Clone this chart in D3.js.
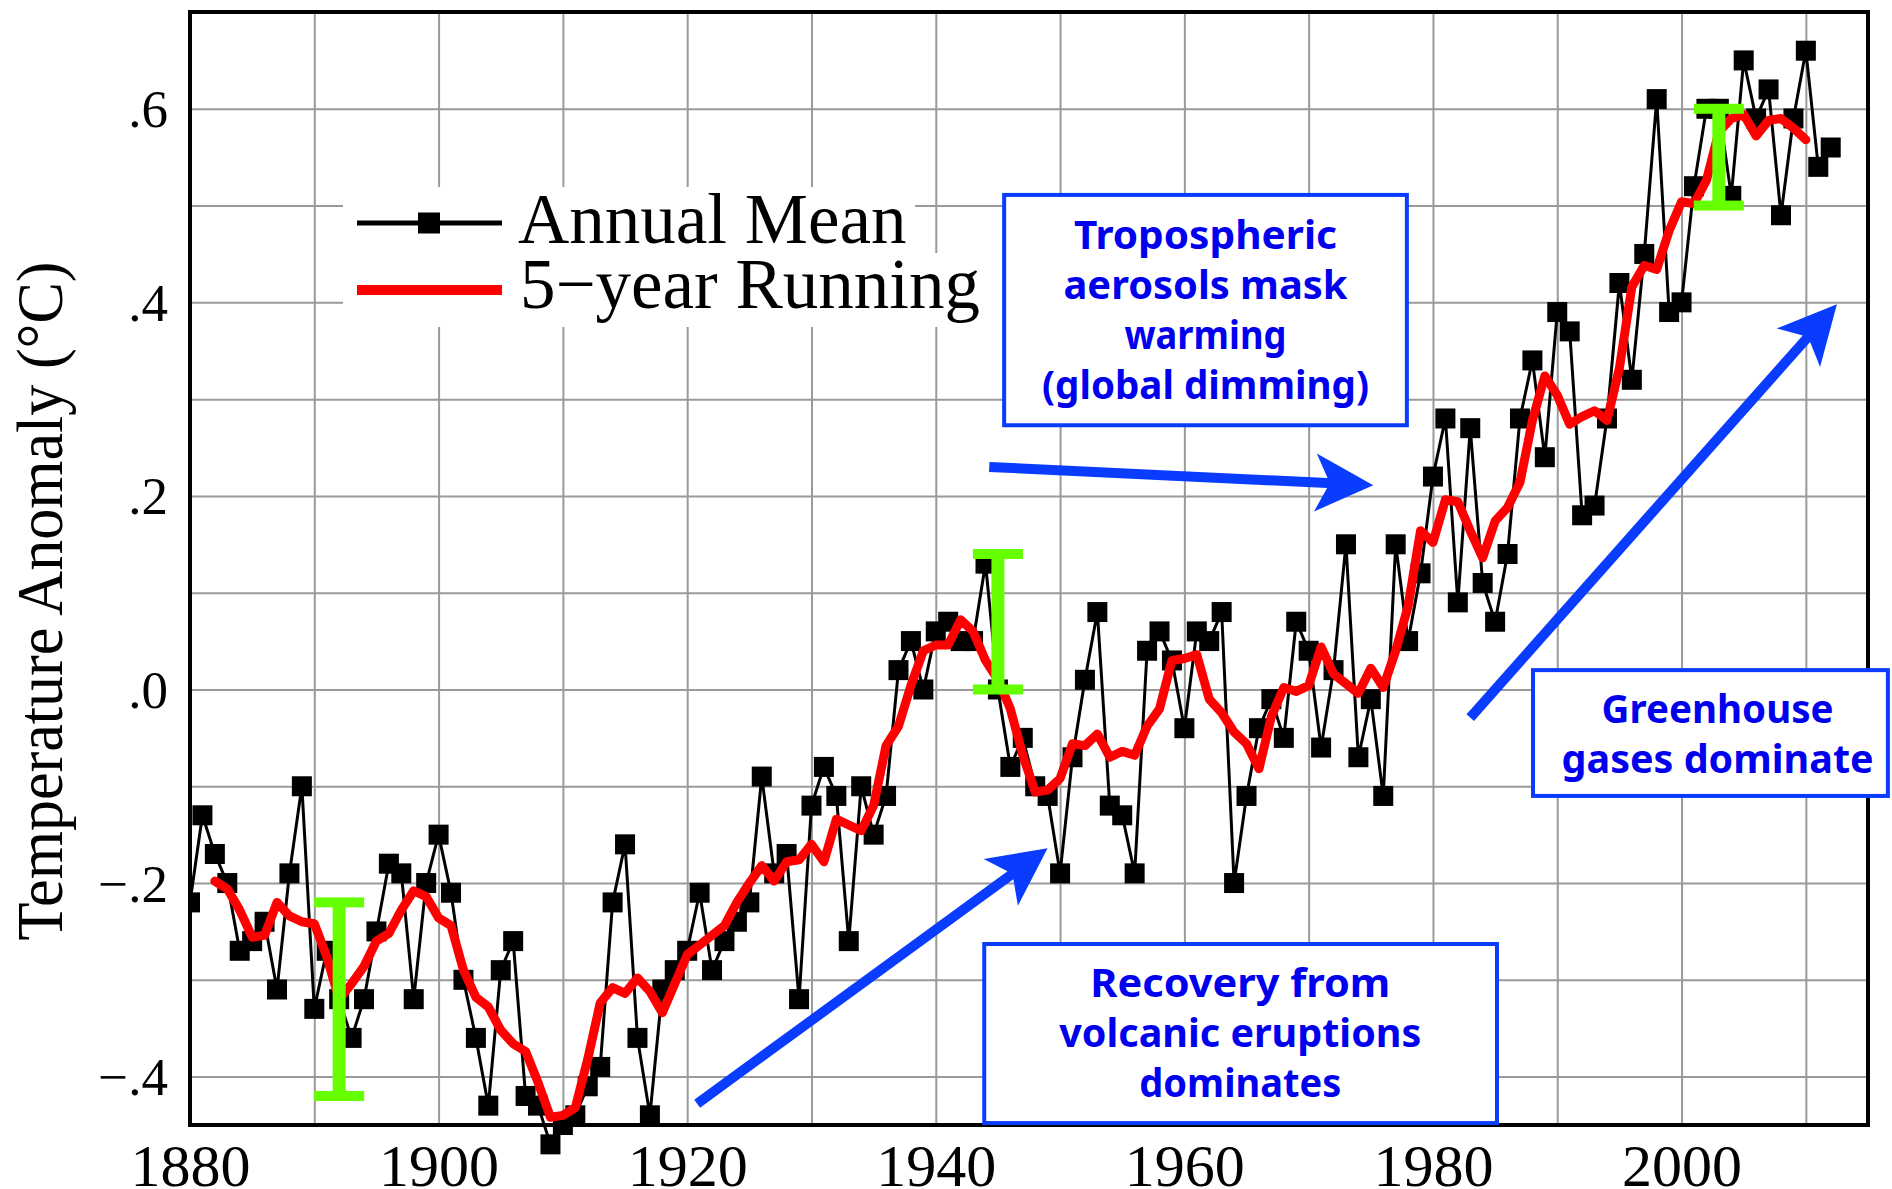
<!DOCTYPE html>
<html>
<head>
<meta charset="utf-8">
<script src="https://cdn.jsdelivr.net/npm/d3@7"></script>
<style>
  html, body { margin: 0; padding: 0; background: #fff; }
  svg { display: block; }
</style>
</head>
<body>
<svg id="chart" width="1892" height="1189"></svg>
<script>
// Global surface temperature anomaly (°C), annual means from 1880 onward
const startYear = 1880;
const annualMean = [
  -0.22, -0.13, -0.17, -0.20, -0.27, -0.26, -0.24, -0.31, -0.19, -0.10,
  -0.33, -0.27, -0.32, -0.36, -0.32, -0.25, -0.18, -0.19, -0.32, -0.20,
  -0.15, -0.21, -0.30, -0.36, -0.43, -0.29, -0.26, -0.42, -0.43, -0.47,
  -0.45, -0.44, -0.41, -0.39, -0.22, -0.16, -0.36, -0.44, -0.31, -0.29,
  -0.27, -0.21, -0.29, -0.26, -0.24, -0.22, -0.09, -0.19, -0.17, -0.32,
  -0.12, -0.08, -0.11, -0.26, -0.10, -0.15, -0.11,  0.02,  0.05,  0.00,
   0.06,  0.07,  0.05,  0.05,  0.13,  0.00, -0.08, -0.05, -0.10, -0.11,
  -0.19, -0.07,  0.01,  0.08, -0.12, -0.13, -0.19,  0.04,  0.06,  0.03,
  -0.04,  0.06,  0.05,  0.08, -0.20, -0.11, -0.04, -0.01, -0.05,  0.07,
   0.04, -0.06,  0.02,  0.15, -0.07, -0.01, -0.11,  0.15,  0.05,  0.12,
   0.22,  0.28,  0.09,  0.27,  0.11,  0.07,  0.14,  0.28,  0.34,  0.24,
   0.39,  0.37,  0.18,  0.19,  0.28,  0.42,  0.32,  0.45,  0.61,  0.39,
   0.40,  0.52,  0.60,  0.60,  0.51,  0.65,  0.59,  0.62,  0.49,  0.59,
   0.66,  0.54,  0.56
];

// 5-year running mean, centred, 1882-2010
const runStartYear = 1882;
const runningMean = [
  -0.198, -0.206, -0.228, -0.256, -0.254, -0.220, -0.234, -0.240, -0.242, -0.276,
  -0.320, -0.304, -0.286, -0.260, -0.252, -0.228, -0.208, -0.214, -0.236, -0.244,
  -0.290, -0.318, -0.328, -0.352, -0.366, -0.374, -0.406, -0.442, -0.440, -0.432,
  -0.382, -0.324, -0.308, -0.314, -0.298, -0.312, -0.334, -0.304, -0.274, -0.264,
  -0.254, -0.244, -0.220, -0.200, -0.182, -0.198, -0.178, -0.176, -0.160, -0.178,
  -0.134, -0.140, -0.146, -0.120, -0.058, -0.038,  0.004,  0.040,  0.046,  0.046,
   0.072,  0.060,  0.030,  0.010, -0.020, -0.068, -0.106, -0.104, -0.092, -0.056,
  -0.058, -0.046, -0.070, -0.064, -0.068, -0.038, -0.020,  0.030,  0.032,  0.036,
  -0.010, -0.024, -0.044, -0.056, -0.082, -0.028,  0.002, -0.002,  0.004,  0.044,
   0.016,  0.006, -0.004,  0.022,  0.002,  0.040,  0.086,  0.164,  0.152,  0.196,
   0.194,  0.164,  0.136,  0.174,  0.188,  0.214,  0.278,  0.324,  0.304,  0.274,
   0.282,  0.288,  0.278,  0.332,  0.416,  0.438,  0.434,  0.474,  0.504,  0.502,
   0.526,  0.576,  0.590,  0.594,  0.572,  0.588,  0.590,  0.580,  0.568
];

// Uncertainty bars (year, low, high)
const barYears = [1892, 1945, 2003];
const barLows  = [-0.42, 0.00, 0.50];
const barHighs = [-0.22, 0.14, 0.60];

// Axis ticks and labels
const xTickValues = [1880, 1900, 1920, 1940, 1960, 1980, 2000];
const xTickLabels = ["1880", "1900", "1920", "1940", "1960", "1980", "2000"];
const yTickValues = [-0.4, -0.2, 0.0, 0.2, 0.4, 0.6];
const yTickLabels = ["\u2212.4", "\u2212.2", ".0", ".2", ".4", ".6"];
const yTitle = "Temperature Anomaly (\u00B0C)";
const legendLabels = ["Annual Mean", "5\u2212year Running"];

// Annotation text
const noteLines = [
  ["Tropospheric", "aerosols mask", "warming", "(global dimming)"],
  ["Greenhouse", "gases dominate"],
  ["Recovery from", "volcanic eruptions", "dominates"]
];

// ---------------------------------------------------------------
const W = 1892, H = 1189;
const plot = { left: 190, right: 1868, top: 12, bottom: 1125 };

const svg = d3.select("#chart");
svg.append("rect").attr("width", W).attr("height", H).attr("fill", "#fff");

const x = d3.scaleLinear().domain([1880, 2015]).range([plot.left, plot.right]);
const y = d3.scaleLinear().domain([-0.45, 0.70]).range([plot.bottom, plot.top]);

const annual = annualMean.map((v, i) => ({ year: startYear + i, value: v }));
const running = runningMean.map((v, i) => ({ year: runStartYear + i, value: v }));

const serif = "'Liberation Serif', 'Times New Roman', Times, serif";
const noteFont = "'Comic Sans MS', 'Noto Sans', 'Open Sans', sans-serif";
const gridColor = "#9a9a9a";
const blue = "#0a3cff";
const noteBlue = "#0000ee";

// ---- grid ----
svg.append("g")
  .attr("transform", `translate(0,${plot.bottom})`)
  .call(d3.axisBottom(x).tickValues(d3.range(1890, 2011, 10))
        .tickSize(-(plot.bottom - plot.top)).tickFormat(""))
  .call(g => g.select(".domain").remove())
  .selectAll("line").attr("stroke", gridColor).attr("stroke-width", 2);

svg.append("g")
  .attr("transform", `translate(${plot.left},0)`)
  .call(d3.axisLeft(y).tickValues(d3.range(-4, 7).map(k => k / 10))
        .tickSize(-(plot.right - plot.left)).tickFormat(""))
  .call(g => g.select(".domain").remove())
  .selectAll("line").attr("stroke", gridColor).attr("stroke-width", 2);

// ---- legend backing ----
const legend = svg.append("g");
legend.append("rect").attr("x", 343).attr("y", 187).attr("width", 572).attr("height", 66).attr("fill", "#fff");
legend.append("rect").attr("x", 343).attr("y", 253).attr("width", 662).attr("height", 74).attr("fill", "#fff");

// ---- frame ----
svg.append("rect")
  .attr("x", plot.left).attr("y", plot.top)
  .attr("width", plot.right - plot.left).attr("height", plot.bottom - plot.top)
  .attr("fill", "none").attr("stroke", "#000").attr("stroke-width", 4);

// ---- data ----
svg.append("clipPath").attr("id", "plotClip")
  .append("rect").attr("x", plot.left).attr("y", -200)
  .attr("width", plot.right - plot.left).attr("height", H + 400);

const data = svg.append("g").attr("clip-path", "url(#plotClip)");

const line = d3.line().x(d => x(d.year)).y(d => y(d.value));

data.append("path").datum(annual)
  .attr("d", line).attr("fill", "none")
  .attr("stroke", "#000").attr("stroke-width", 3).attr("stroke-linejoin", "miter");

data.selectAll("rect.pt").data(annual).join("rect")
  .attr("class", "pt")
  .attr("x", d => x(d.year) - 10).attr("y", d => y(d.value) - 10)
  .attr("width", 20).attr("height", 20).attr("fill", "#000");

data.append("path").datum(running)
  .attr("d", line).attr("fill", "none")
  .attr("stroke", "#ff0000").attr("stroke-width", 9)
  .attr("stroke-linejoin", "round").attr("stroke-linecap", "round");

// ---- uncertainty bars ----
const green = "#66ff00";
const bars = svg.append("g");
barYears.forEach((yr, i) => {
  const cx = x(yr), yl = y(barLows[i]), yh = y(barHighs[i]);
  bars.append("rect").attr("x", cx - 6.5).attr("y", yh).attr("width", 13).attr("height", yl - yh).attr("fill", green);
  bars.append("rect").attr("x", cx - 25).attr("y", yh - 5).attr("width", 50).attr("height", 10).attr("fill", green);
  bars.append("rect").attr("x", cx - 25).attr("y", yl - 5).attr("width", 50).attr("height", 10).attr("fill", green);
});

// ---- legend ----
legend.append("line").attr("x1", 357).attr("x2", 502).attr("y1", 223).attr("y2", 223)
  .attr("stroke", "#000").attr("stroke-width", 5);
legend.append("rect").attr("x", 418).attr("y", 212.5).attr("width", 22).attr("height", 21).attr("fill", "#000");
legend.append("line").attr("x1", 357).attr("x2", 502).attr("y1", 290).attr("y2", 290)
  .attr("stroke", "#ff0000").attr("stroke-width", 10);
legend.selectAll("text").data(legendLabels).join("text")
  .attr("x", (d, i) => i === 0 ? 518 : 520)
  .attr("y", (d, i) => i === 0 ? 243 : 308)
  .attr("font-family", serif).attr("font-size", 71).attr("fill", "#000")
  .text(d => d);

// ---- axes labels ----
const xAxis = svg.append("g")
  .attr("transform", `translate(0,${plot.bottom})`)
  .call(d3.axisBottom(x).tickValues(xTickValues)
        .tickFormat((d, i) => xTickLabels[i]).tickSize(0));
xAxis.select(".domain").remove();
xAxis.selectAll("text")
  .attr("y", 61).attr("dy", 0)
  .attr("font-family", serif).attr("font-size", 60).attr("fill", "#000");

const yAxis = svg.append("g")
  .attr("transform", `translate(${plot.left},0)`)
  .call(d3.axisLeft(y).tickValues(yTickValues)
        .tickFormat((d, i) => yTickLabels[i]).tickSize(0).tickPadding(22));
yAxis.select(".domain").remove();
yAxis.selectAll("text")
  .attr("dy", "0.34em")
  .attr("font-family", serif).attr("font-size", 53).attr("fill", "#000");

svg.append("text")
  .attr("transform", "translate(62,601) rotate(-90)")
  .attr("text-anchor", "middle")
  .attr("font-family", serif).attr("font-size", 66).attr("fill", "#000")
  .attr("textLength", 679).attr("lengthAdjust", "spacingAndGlyphs")
  .text(yTitle);

// ---- arrows ----
function arrowPath(t, p) {
  const dx = p[0] - t[0], dy = p[1] - t[1];
  const len = Math.hypot(dx, dy);
  const ux = dx / len, uy = dy / len, vx = -uy, vy = ux;
  const L = 58, Wd = 29, notch = 12, s = 5;
  const bx = p[0] - L * ux, by = p[1] - L * uy;
  const nx = bx + notch * ux, ny = by + notch * uy;
  const pts = [
    p,
    [bx + Wd * vx, by + Wd * vy],
    [nx + s * vx, ny + s * vy],
    [t[0] + s * vx, t[1] + s * vy],
    [t[0] - s * vx, t[1] - s * vy],
    [nx - s * vx, ny - s * vy],
    [bx - Wd * vx, by - Wd * vy]
  ];
  return "M" + pts.map(q => q[0].toFixed(1) + "," + q[1].toFixed(1)).join("L") + "Z";
}
const arrowEnds = [
  [[1944.3, 0.230], [1975.2, 0.211]],
  [[1920.8, -0.428], [1949.0, -0.164]],
  [[1983.0, -0.029], [2012.5, 0.398]]
];
svg.append("g").selectAll("path").data(arrowEnds).join("path")
  .attr("d", d => arrowPath([x(d[0][0]), y(d[0][1])], [x(d[1][0]), y(d[1][1])]))
  .attr("fill", blue);

// ---- annotation boxes ----
const noteBoxes = [
  { x0: 1945.5, x1: 1977.9, top: 0.511, bottom: 0.273, cx: 1961.7, base: 0.455, widths: [263, 284, 162, 327] },
  { x0: 1988.05, x1: 2016.6, top: 0.020, bottom: -0.110, cx: 2002.9, base: -0.0346, widths: [232, 312] },
  { x0: 1943.9, x1: 1985.15, top: -0.263, bottom: -0.448, cx: 1964.5, base: -0.3177, widths: [300, 362, 202] }
];
const notes = svg.append("g");
noteBoxes.forEach((b, i) => {
  notes.append("rect")
    .attr("x", x(b.x0)).attr("y", y(b.top))
    .attr("width", x(b.x1) - x(b.x0)).attr("height", y(b.bottom) - y(b.top))
    .attr("fill", "#fff").attr("stroke", blue).attr("stroke-width", 4);
  notes.selectAll(null).data(noteLines[i]).join("text")
    .attr("x", x(b.cx))
    .attr("y", (d, j) => y(b.base) + j * 50)
    .attr("text-anchor", "middle")
    .attr("font-family", noteFont).attr("font-weight", "bold")
    .attr("font-size", 40).attr("fill", noteBlue)
    .attr("textLength", (d, j) => b.widths[j]).attr("lengthAdjust", "spacingAndGlyphs")
    .text(d => d);
});
</script>
</body>
</html>
